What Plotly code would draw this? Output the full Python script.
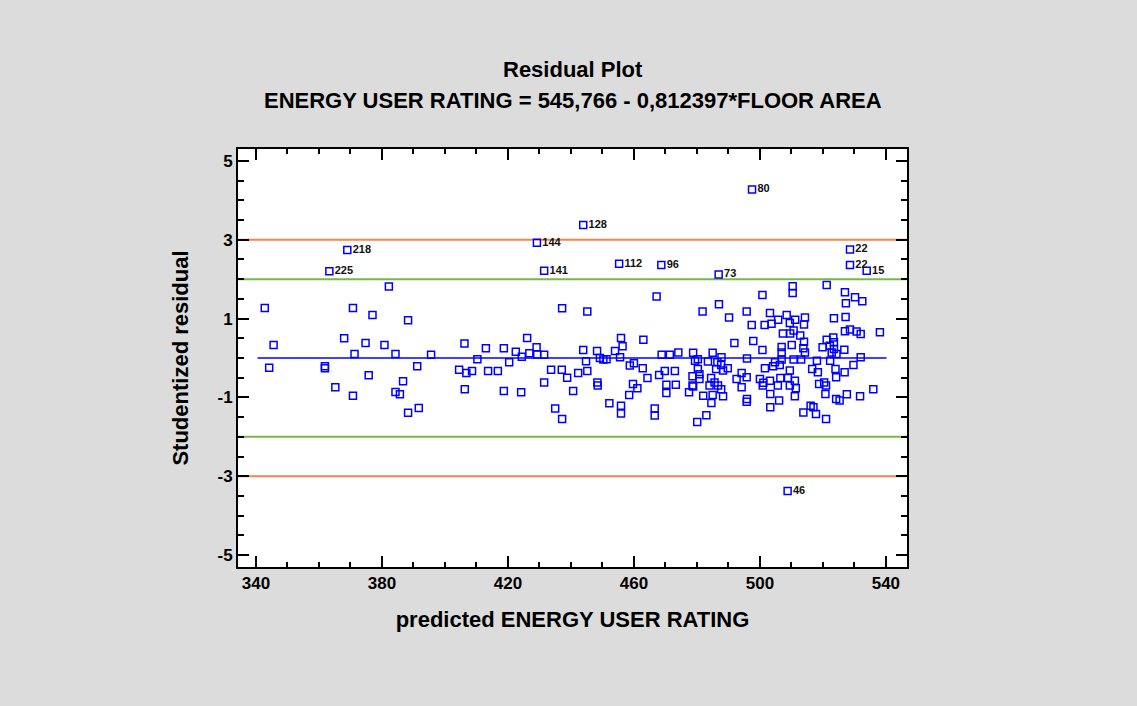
import plotly.graph_objects as go

# ---------------- data ----------------
# regular points (predicted, studentized residual)
pred = [
    382.2, 342.8, 345.6, 344.2, 361.9, 361.9, 370.8, 377.0, 388.3, 368.0,
    374.8, 380.8, 371.3, 384.3, 395.6, 406.2, 391.2, 375.8, 386.7, 404.5,
    406.8, 365.2, 370.8, 384.3, 385.7, 406.3, 388.3, 391.7,
    467.2,
    437.2, 445.2, 413.0, 418.7, 426.1, 422.5, 429.1, 426.8, 429.3, 431.5,
    424.4, 410.3, 420.4, 408.6, 413.7, 416.8, 418.7, 424.2, 431.5, 433.7,
    437.1, 438.8, 442.3, 445.2, 440.7, 443.9, 444.8, 435.0, 437.2, 448.3,
    448.4, 448.5, 449.2, 450.3, 451.3, 454.0, 455.9, 456.4, 455.6, 452.2,
    455.9, 455.9, 458.7, 460.0, 462.8, 459.7, 461.1, 458.5, 463.0, 464.3,
    468.0, 468.8, 471.4, 474.1, 469.8, 473.0, 470.3, 473.3, 470.3, 466.6,
    466.6, 478.8, 479.4, 478.8, 477.5, 480.1,
    500.8, 510.4, 510.4, 521.2, 527.0, 530.2,
    527.3, 532.5, 487.0, 481.8, 495.8, 490.2, 503.2, 508.5, 505.8, 511.2,
    514.3, 523.5, 527.2, 497.4, 501.5, 503.7, 509.5, 514.0, 507.3, 509.6,
    510.7, 512.8, 527.0, 528.6, 530.7, 532.0, 538.1, 491.9, 497.9, 500.8,
    506.9, 506.9, 510.1, 514.0, 513.8, 514.3, 521.2, 523.3, 523.5, 522.2,
    519.9, 523.5, 522.8, 524.3, 526.8, 532.0, 485.0, 487.8, 495.9, 480.3,
    483.5, 486.5, 487.7, 489.8, 486.1, 488.3, 480.3, 480.8, 478.6, 478.6,
    480.8, 484.5, 485.6, 484.0, 486.7, 487.7, 488.3, 482.0, 485.0, 484.6,
    483.0, 492.6, 494.2, 495.8, 494.2, 495.9, 495.8, 501.6, 504.2, 506.3,
    504.8, 506.9, 500.0, 501.1, 503.2, 500.9, 503.3, 505.7, 506.1, 503.3,
    506.5, 508.9, 509.5, 509.5, 511.1, 511.4, 511.1, 510.7, 513.1, 516.6,
    518.4, 518.1, 522.3, 524.0, 526.9, 524.2, 518.8, 520.4, 521.0, 520.8,
    524.2, 525.3, 527.6, 531.8, 529.7, 536.0, 513.8, 516.1, 517.0, 517.8,
    521.0,
]
resid = [
    1.81, 1.27, 0.33, -0.25, -0.21, -0.26, 1.27, 1.09, 0.96, 0.50,
    0.38, 0.33, 0.10, 0.10, 0.08, 0.37, -0.21, -0.44, -0.59, -0.30,
    -0.38, -0.74, -0.96, -0.86, -0.92, -0.79, -1.39, -1.27,
    1.56,
    1.26, 1.18, 0.25, 0.25, 0.51, 0.16, 0.27, 0.12, 0.09, 0.08,
    0.03, -0.03, -0.11, -0.33, -0.33, -0.33, -0.84, -0.87, -0.62, -0.30,
    -0.30, -0.50, -0.38, -0.33, -0.84, 0.20, -0.08, -1.28, -1.55, 0.18,
    -0.62, -0.70, 0.00, -0.04, -0.03, 0.18, 0.51, 0.30, 0.02, -1.15,
    -1.21, -1.41, -0.19, -0.13, -0.26, -0.66, -0.77, -0.94, 0.46, -0.51,
    -0.43, 0.08, 0.08, 0.14, -0.33, -0.33, -0.68, -0.68, -0.89, -1.28,
    -1.46, 0.13, -0.07, -0.72, -0.87, -1.62,
    1.60, 1.82, 1.65, 1.85, 1.67, 1.54,
    1.39, 1.44, 1.36, 1.18, 1.18, 1.03, 1.14, 1.09, 0.97, 0.97,
    1.03, 1.01, 1.04, 0.84, 0.84, 0.87, 0.89, 0.85, 0.62, 0.62,
    0.70, 0.57, 0.68, 0.72, 0.67, 0.61, 0.65, 0.38, 0.43, 0.20,
    0.28, 0.14, 0.33, 0.41, 0.25, 0.14, 0.46, 0.52, 0.40, 0.31,
    0.27, 0.23, 0.14, 0.10, 0.21, 0.02, 0.13, 0.02, -0.01, -0.03,
    -0.09, -0.11, -0.18, -0.26, -0.28, -0.32, -0.28, -0.41, -0.46, -0.70,
    -0.53, -0.51, -0.62, -0.70, -0.70, -0.79, -0.97, -0.96, -0.94, -1.14,
    -1.45, -0.53, -0.38, -0.49, -0.74, -1.04, -1.11, -0.26, -0.21, -0.18,
    -0.11, -0.04, -0.53, -0.63, -0.58, -0.70, -0.91, -0.70, -1.08, -1.25,
    -0.51, -0.51, -0.32, -0.70, -0.58, -0.77, -0.97, -0.04, -0.04, -0.28,
    -0.36, -0.07, -0.07, -0.28, -0.36, -0.49, -0.66, -0.62, -0.70, -0.91,
    -1.04, -1.08, -0.92, -0.97, -0.18, -0.79, -1.38, -1.21, -1.25, -1.42,
    -1.55,
]

# labelled (unusual) points
out_pred = [369.0, 363.3, 429.2, 443.9, 431.5, 455.3, 468.7, 497.5, 486.9, 528.6, 528.6, 533.9, 508.8]
out_resid = [2.74, 2.20, 2.92, 3.37, 2.21, 2.39, 2.36, 4.27, 2.12, 2.75, 2.36, 2.21, -3.37]
out_labels = ["218", "225", "144", "128", "141", "112", "96", "80", "73", "22", "22", "15", "46"]

# reference lines
zero_line_x = [340.5, 540.2]
band_x = [334.3, 546.7]
limits_2 = [2, -2]
limits_3 = [3, -3]

x_ticks = [340, 380, 420, 460, 500, 540]
y_ticks = [5, 3, 1, -1, -3, -5]
y_ticktext = ["5", "3", "1", "-1", "-3", "-5"]

title_text = "Residual Plot"
subtitle_text = "ENERGY USER RATING = 545,766 - 0,812397*FLOOR AREA"
x_title = "predicted ENERGY USER RATING"
y_title = "Studentized residual"

# ---------------- figure ----------------
BLUE = "#0000FF"
ORANGE = "#F2854E"
GREEN = "#7AB648"
FONT = "Liberation Sans"

fig = go.Figure()

for v in limits_3:
    fig.add_trace(go.Scatter(x=band_x, y=[v, v], mode="lines",
                             line=dict(color=ORANGE, width=2), hoverinfo="skip"))
for v in limits_2:
    fig.add_trace(go.Scatter(x=band_x, y=[v, v], mode="lines",
                             line=dict(color=GREEN, width=2), hoverinfo="skip"))
fig.add_trace(go.Scatter(x=zero_line_x, y=[0, 0], mode="lines",
                         line=dict(color=BLUE, width=1.5), hoverinfo="skip"))

fig.add_trace(go.Scatter(x=pred, y=resid, mode="markers",
                         marker=dict(symbol="square-open", size=7, color=BLUE,
                                     line=dict(width=1.5, color=BLUE))))
fig.add_trace(go.Scatter(x=out_pred, y=out_resid, mode="markers+text",
                         text=out_labels, textposition="middle right",
                         textfont=dict(family=FONT, size=11, color="#111111", weight="bold"),
                         marker=dict(symbol="square-open", size=7, color=BLUE,
                                     line=dict(width=1.5, color=BLUE))))

axis_common = dict(
    showline=True, linecolor="black", linewidth=2, mirror="allticks",
    ticks="inside", ticklen=11, tickwidth=2, tickcolor="black",
    showgrid=False, zeroline=False,
    tickfont=dict(family=FONT, size=17, color="black", weight="bold"),
)

fig.update_xaxes(
    range=[334.3, 546.7], tickmode="array", tickvals=x_ticks,
    minor=dict(ticks="inside", dtick=10, tick0=340, ticklen=5, tickwidth=2,
               tickcolor="black", showgrid=False),
    title=dict(text=x_title, font=dict(family=FONT, size=22, color="black", weight="bold"),
               standoff=19),
    **axis_common,
)
fig.update_yaxes(
    range=[-5.3, 5.3], tickmode="array", tickvals=y_ticks, ticktext=y_ticktext,
    minor=dict(ticks="inside", dtick=0.5, tick0=0, ticklen=6, tickwidth=2,
               tickcolor="black", showgrid=False),
    title=dict(text=y_title, font=dict(family=FONT, size=22, color="black", weight="bold"),
               standoff=23),
    **axis_common,
)

fig.add_annotation(text=title_text, x=0.5, y=1.189, xref="paper", yref="paper",
                   showarrow=False, yanchor="middle",
                   font=dict(family=FONT, size=22, color="black", weight="bold"))
fig.add_annotation(text=subtitle_text, x=0.5, y=1.115, xref="paper", yref="paper",
                   showarrow=False, yanchor="middle",
                   font=dict(family=FONT, size=22, color="black", weight="bold"))

fig.update_layout(
    width=1137, height=706,
    margin=dict(l=238, r=230, t=149, b=139, autoexpand=False),
    paper_bgcolor="#DCDCDC", plot_bgcolor="white",
    showlegend=False,
)

fig.write_html("out.html", config={"displayModeBar": False})
